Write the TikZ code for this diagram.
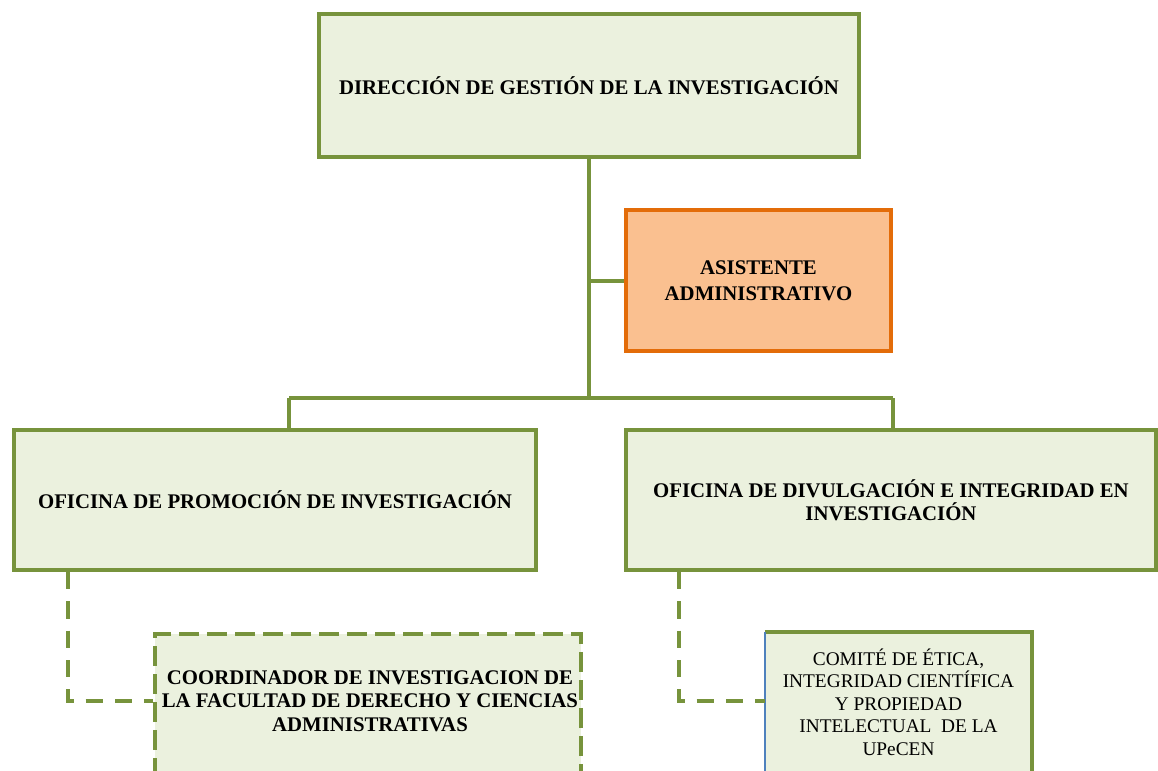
\documentclass[tikz,border=0pt]{standalone}
\usepackage{fontspec}
\setmainfont{Liberation Serif}
\definecolor{gline}{HTML}{77933C}
\definecolor{gfill}{HTML}{EBF1DE}
\definecolor{ofill}{HTML}{FAC090}
\definecolor{oline}{HTML}{E36C09}
\definecolor{bline}{HTML}{4F81BD}
\begin{document}
\begin{tikzpicture}[x=0.75pt,y=-0.75pt,
  box/.style={draw=gline,line width=3pt,fill=gfill,inner sep=0pt,align=center,
    font=\bfseries\fontsize{15.6}{17.5}\selectfont},
  obox/.style={box,draw=oline,fill=ofill,font=\bfseries\fontsize{15.6}{19.5}\selectfont},
  dbox/.style={box,dash pattern=on 15pt off 6pt},
  plainbox/.style={fill=gfill,inner sep=0pt},
  txt/.style={inner sep=0pt,align=center},
  conn/.style={draw=gline,line width=3pt},
  dconn/.style={draw=gline,line width=3pt,dash pattern=on 13pt off 9pt}]
\useasboundingbox (0,0) rectangle (1158,771);
\clip (0,0) rectangle (1158,771);

\node[box,minimum width=405pt,minimum height=107.25pt] (dir) at (589,85.5)
  {DIRECCIÓN DE GESTIÓN DE LA INVESTIGACIÓN};
\node[obox,minimum width=199pt,minimum height=106pt] (asis) at (758.5,280.5)
  {ASISTENTE\\ADMINISTRATIVO};
\node[box,minimum width=391.5pt,minimum height=105pt] (ofp) at (275,500)
  {OFICINA DE PROMOCIÓN DE INVESTIGACIÓN};
\node[box,minimum width=397.5pt,minimum height=105pt] (ofd) at (891,500)
  {OFICINA DE DIVULGACIÓN E INTEGRIDAD EN\\INVESTIGACIÓN};

\node[dbox,anchor=north,minimum width=319.5pt,minimum height=150pt] (coord) at (368,632) {};
\node[txt,font=\bfseries\fontsize{15.6}{17.5}\selectfont] (coordtext) at (370,701)
  {COORDINADOR DE INVESTIGACION DE\\LA FACULTAD DE DERECHO Y CIENCIAS\\ADMINISTRATIVAS};

\node[plainbox,anchor=north,minimum width=200pt,minimum height=150pt] (comite) at (898.5,632) {};
\draw[conn] (comite.north west) -- (comite.north east) -- (comite.south east);
\draw[bline,line width=1pt] (comite.north west) -- (comite.south west);
\node[txt,font=\fontsize{14.5}{16.8}\selectfont] (comitetext) at (898.5,702)
  {COMITÉ DE ÉTICA,\\INTEGRIDAD CIENTÍFICA\\Y PROPIEDAD\\INTELECTUAL\ \ DE LA\\UPeCEN};

\coordinate (ja) at (289,398);
\coordinate (jb) at (893,398);
\draw[conn] (dir.south) -- (dir.south |- ja);
\draw[conn] (dir.south |- asis.west) -- (asis.west);
\draw[conn] (ja) -- (jb);
\draw[conn] (ja) -- (ja |- ofp.north);
\draw[conn] (jb) -- (jb |- ofd.north);

\coordinate (da) at (68,572);
\coordinate (db) at (679,572);
\draw[dconn] (da) |- (coord.west |- coordtext);
\draw[dconn] (db) |- (comite.west |- coordtext);
\end{tikzpicture}
\end{document}
